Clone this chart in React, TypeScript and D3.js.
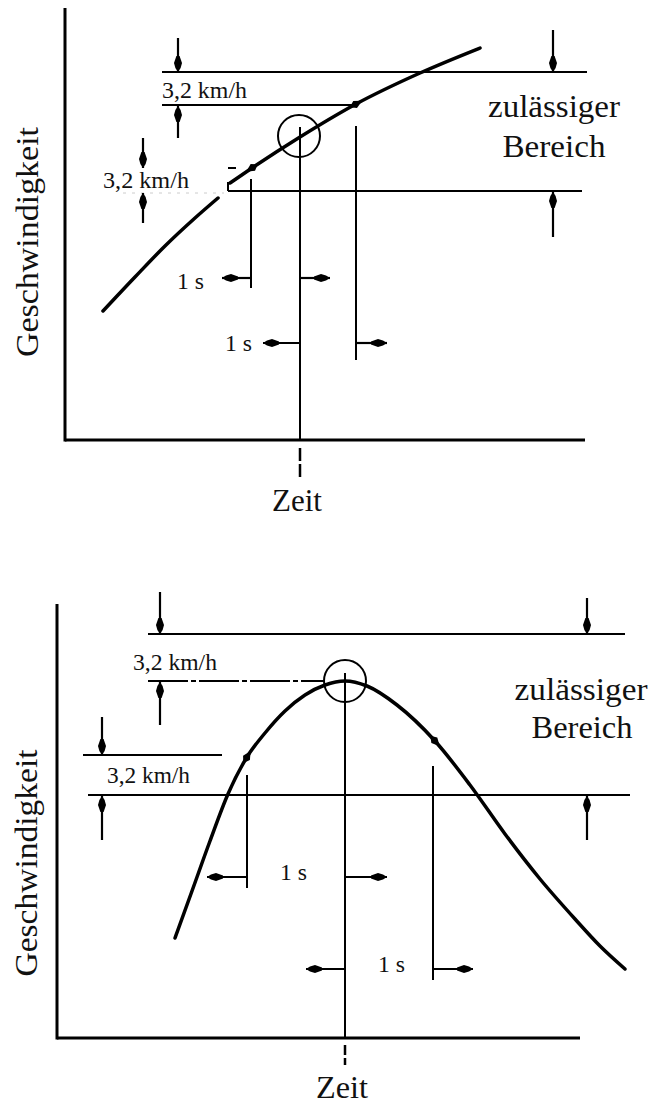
import React from 'react';
import * as d3 from 'd3';

// ---------- data (arbitrary units: time, speed) ----------
// Top diagram: accelerating run
const topCurveLowerT = [3.8, 7.0, 10.0, 13.0, 15.3];
const topCurveLowerV = [12.9, 16.3, 19.4, 22.2, 24.2];
const topCurveUpperT = [16.5, 18.7, 23.5, 29.1, 35.5, 41.5];
const topCurveUpperV = [25.7, 27.2, 30.3, 33.6, 36.7, 39.2];
// upper limit, v(t0+1s), v(t0-1s), lower limit
const topLevels = [36.8, 33.5, 27.2, 24.9];
// t0-1s, t0, t0+1s
const topTimes = [18.6, 23.5, 29.1];

// Bottom diagram: speed peak
const botCurveT = [11.8, 13.5, 15.3, 17.1, 19.0, 20.8, 22.8, 24.8, 26.8, 28.8, 31.0, 34.0, 37.8, 41.3, 44.8, 48.3, 51.8, 54.3, 56.8];
const botCurveV = [10.0, 14.7, 19.7, 24.4, 28.1, 30.5, 32.7, 34.3, 35.3, 35.7, 35.2, 33.3, 29.7, 25.3, 20.4, 15.9, 11.9, 9.2, 6.9];
// upper limit, peak, v(t0-1s), lower limit
const botLevels = [40.4, 35.7, 28.3, 24.3];
const botTimes = [19.0, 28.8, 37.6];

const labelSpeed = '3,2 km/h';
const labelTime = '1 s';
const labelRange = ['zulässiger', 'Bereich'];
const labelX = 'Zeit';
const labelY = 'Geschwindigkeit';

const FONT = "'Liberation Serif', Tinos, 'Times New Roman', 'DejaVu Serif', serif";
const INK = '#000';

type P = { x1: number; y1: number; x2: number; y2: number };

function Arrow({ x1, y1, x2, y2 }: P) {
  const dx = x2 - x1, dy = y2 - y1;
  const Ln = Math.hypot(dx, dy) || 1;
  const ux = dx / Ln, uy = dy / Ln;
  const nx = -uy, ny = ux;
  const pt = (b: number, w: number) => `${x2 - ux * b + nx * w},${y2 - uy * b + ny * w}`;
  const head = [pt(0, 0), pt(4, 2.6), pt(9, 4), pt(16, 1.6), pt(16, -1.6), pt(9, -4), pt(4, -2.6)].join(' ');
  return (
    <g>
      <line x1={x1} y1={y1} x2={x2} y2={y2} stroke={INK} strokeWidth={2.2} />
      <polygon points={head} fill={INK} />
    </g>
  );
}

function Mark({ x, y, angle }: { x: number; y: number; angle: number }) {
  return (
    <polygon
      points="-7,0 -1,-4 7,0 -1,4"
      fill={INK}
      transform={`translate(${x},${y}) rotate(${angle})`}
    />
  );
}

function L({ x1, y1, x2, y2, w = 2, dash }: P & { w?: number; dash?: string }) {
  return <line x1={x1} y1={y1} x2={x2} y2={y2} stroke={INK} strokeWidth={w} strokeDasharray={dash} />;
}

function T({ x, y, size, anchor = 'start', children, rotate, len }: any) {
  return (
    <text
      x={x}
      y={y}
      fontSize={size}
      textAnchor={anchor}
      fill="#111"
      style={{ fontFamily: FONT }}
      textLength={len}
      lengthAdjust={len ? 'spacingAndGlyphs' : undefined}
      transform={rotate ? `rotate(${rotate},${x},${y})` : undefined}
    >
      {children}
    </text>
  );
}

export default function App() {
  const mkPath = (ts: number[], vs: number[], xs: any, ys: any) =>
    d3
      .line<number>()
      .x((t) => xs(t))
      .y((_, i) => ys(vs[i]))
      .curve(d3.curveMonotoneX)(ts) as string;

  const ang = (ts: number[], vs: number[], i: number, xs: any, ys: any) => {
    const a = Math.atan2(ys(vs[i + 1]) - ys(vs[i - 1]), xs(ts[i + 1]) - xs(ts[i - 1]));
    return (a * 180) / Math.PI;
  };

  // ---------- top diagram ----------
  const xT = d3.scaleLinear().domain([0, 52]).range([65, 585]);
  const yT = d3.scaleLinear().domain([0, 43.2]).range([440, 8]);

  const topLower = mkPath(topCurveLowerT, topCurveLowerV, xT, yT);
  const topUpper = mkPath(topCurveUpperT, topCurveUpperV, xT, yT);

  const tyUp = yT(topLevels[0]);
  const tyMid = yT(topLevels[1]);
  const tyT1 = yT(topLevels[2]);
  const tyLow = yT(topLevels[3]);
  const txA = xT(topTimes[0]);
  const tx0 = xT(topTimes[1]);
  const txB = xT(topTimes[2]);
  const tCy = yT(topCurveUpperV[2]);
  const tAxisY = yT(0);
  const tAxisX = xT(0);

  // ---------- bottom diagram ----------
  const xB = d3.scaleLinear().domain([0, 52.3]).range([57, 580]);
  const yB = d3.scaleLinear().domain([0, 43.4]).range([1038, 604]);
  const botPath = mkPath(botCurveT, botCurveV, xB, yB);

  const byUp = yB(botLevels[0]);
  const byPeak = yB(botLevels[1]);
  const byT1 = yB(botLevels[2]);
  const byLow = yB(botLevels[3]);
  const bxA = xB(botTimes[0]);
  const bx0 = xB(botTimes[1]);
  const bxB = xB(botTimes[2]);
  const bAxisY = yB(0);
  const bAxisX = xB(0);

  return (
    <svg
      width={651}
      height={1104}
      viewBox="0 0 651 1104"
      style={{ position: 'absolute', left: 0, top: 0, background: '#fff' }}
    >
      <rect x={0} y={0} width={651} height={1104} fill="#fff" />

      {/* ================= TOP ================= */}
      <L x1={tAxisX} y1={yT(43.2)} x2={tAxisX} y2={tAxisY + 1.5} w={3} />
      <L x1={tAxisX} y1={tAxisY} x2={xT(52)} y2={tAxisY} w={3} />
      <L x1={tx0} y1={tAxisY + 8} x2={tx0} y2={tAxisY + 38} w={2.5} dash="13 3" />

      <L x1={162} y1={tyUp} x2={587} y2={tyUp} w={2} />
      <L x1={162} y1={tyMid} x2={txB} y2={tyMid} w={2} />
      <L x1={228} y1={tyLow} x2={582} y2={tyLow} w={2} />
      <L x1={228} y1={tyT1} x2={236} y2={tyT1} w={2} />
      <L x1={228} y1={tyLow - 9} x2={228} y2={tyLow} w={2} />
      <line x1={123} y1={tyLow + 2} x2={224} y2={tyLow + 2} stroke="#ccc" strokeWidth={1} strokeDasharray="3 6" />

      <L x1={txA} y1={tyT1 + 11} x2={txA} y2={288} w={2} />
      <L x1={tx0} y1={tCy - 10} x2={tx0} y2={tAxisY} w={2} />
      <L x1={txB} y1={tyMid + 21} x2={txB} y2={360} w={2} />

      <path d={topLower} fill="none" stroke={INK} strokeWidth={3.5} strokeLinecap="round" />
      <path d={topUpper} fill="none" stroke={INK} strokeWidth={3.5} strokeLinecap="round" />
      <Mark x={xT(topCurveUpperT[1])} y={yT(topCurveUpperV[1])} angle={ang(topCurveUpperT, topCurveUpperV, 1, xT, yT) + 180} />
      <Mark x={xT(topCurveUpperT[3])} y={yT(topCurveUpperV[3])} angle={ang(topCurveUpperT, topCurveUpperV, 3, xT, yT)} />
      <circle cx={tx0 - 1} cy={tCy - 1} r={21} fill="none" stroke={INK} strokeWidth={2} />

      <Arrow x1={178} y1={38} x2={178} y2={tyUp} />
      <Arrow x1={178} y1={138} x2={178} y2={tyMid + 1} />
      <Arrow x1={143} y1={138} x2={143} y2={tyT1} />
      <Arrow x1={143} y1={223} x2={143} y2={tyLow + 2} />
      <Arrow x1={553} y1={30} x2={553} y2={tyUp} />
      <Arrow x1={553} y1={237} x2={553} y2={tyLow + 1} />

      <Arrow x1={txA} y1={278} x2={222} y2={278} />
      <Arrow x1={tx0} y1={278} x2={330} y2={278} />
      <Arrow x1={tx0} y1={343} x2={263} y2={343} />
      <Arrow x1={txB} y1={343} x2={387} y2={343} />

      <T x={162} y={98} size={23} len={85}>{labelSpeed}</T>
      <T x={103} y={188} size={23} len={86}>{labelSpeed}</T>
      <T x={554} y={117} size={32} anchor="middle" len={132}>{labelRange[0]}</T>
      <T x={554} y={157} size={32} anchor="middle" len={103}>{labelRange[1]}</T>
      <T x={177} y={289} size={24} len={27}>{labelTime}</T>
      <T x={225} y={351} size={24} len={27}>{labelTime}</T>
      <T x={297} y={511} size={31} anchor="middle" len={50}>{labelX}</T>
      <T x={38} y={242} size={32} anchor="middle" rotate={-90} len={230}>{labelY}</T>

      {/* ================= BOTTOM ================= */}
      <L x1={bAxisX} y1={yB(43.4)} x2={bAxisX} y2={bAxisY + 1.5} w={3} />
      <L x1={bAxisX} y1={bAxisY} x2={xB(52.3)} y2={bAxisY} w={3} />
      <L x1={bx0} y1={bAxisY + 7} x2={bx0} y2={bAxisY + 27} w={2.5} dash="10 3" />

      <L x1={148} y1={byUp} x2={625} y2={byUp} w={2} />
      <L x1={148} y1={byPeak} x2={bx0 - 20} y2={byPeak} w={2} dash="40 3 5 3" />
      <L x1={bx0 - 8} y1={byPeak} x2={bx0 + 8} y2={byPeak} w={2} />
      <L x1={83} y1={byT1} x2={222} y2={byT1} w={2} />
      <L x1={88} y1={byLow} x2={630} y2={byLow} w={2} />

      <L x1={bxA} y1={byT1 + 20} x2={bxA} y2={888} w={2} />
      <L x1={bx0} y1={byPeak - 8} x2={bx0} y2={bAxisY} w={2} />
      <L x1={bxB} y1={yB(botCurveV[12]) + 25} x2={bxB} y2={980} w={2} />

      <path d={botPath} fill="none" stroke={INK} strokeWidth={3.5} strokeLinecap="round" />
      <Mark x={xB(botCurveT[4])} y={yB(botCurveV[4])} angle={ang(botCurveT, botCurveV, 4, xB, yB)} />
      <Mark x={xB(botCurveT[12])} y={yB(botCurveV[12])} angle={ang(botCurveT, botCurveV, 12, xB, yB)} />
      <circle cx={bx0} cy={byPeak} r={21} fill="none" stroke={INK} strokeWidth={2} />

      <Arrow x1={160} y1={592} x2={160} y2={byUp} />
      <Arrow x1={160} y1={725} x2={160} y2={byPeak + 1} />
      <Arrow x1={102} y1={717} x2={102} y2={byT1} />
      <Arrow x1={102} y1={840} x2={102} y2={byLow + 1} />
      <Arrow x1={587} y1={598} x2={587} y2={byUp} />
      <Arrow x1={587} y1={840} x2={587} y2={byLow + 1} />

      <Arrow x1={bxA} y1={877} x2={207} y2={877} />
      <Arrow x1={bx0} y1={877} x2={387} y2={877} />
      <Arrow x1={bx0} y1={969} x2={306} y2={969} />
      <Arrow x1={bxB} y1={969} x2={473} y2={969} />

      <T x={133} y={670} size={23} len={84}>{labelSpeed}</T>
      <T x={107} y={783} size={23} len={83}>{labelSpeed}</T>
      <T x={581} y={700} size={32} anchor="middle" len={133}>{labelRange[0]}</T>
      <T x={582} y={738} size={32} anchor="middle" len={101}>{labelRange[1]}</T>
      <T x={280} y={880} size={24} len={27}>{labelTime}</T>
      <T x={378} y={972} size={24} len={27}>{labelTime}</T>
      <T x={342} y={1098} size={31} anchor="middle" len={52}>{labelX}</T>
      <T x={37} y={863} size={32} anchor="middle" rotate={-90} len={227}>{labelY}</T>
    </svg>
  );
}
